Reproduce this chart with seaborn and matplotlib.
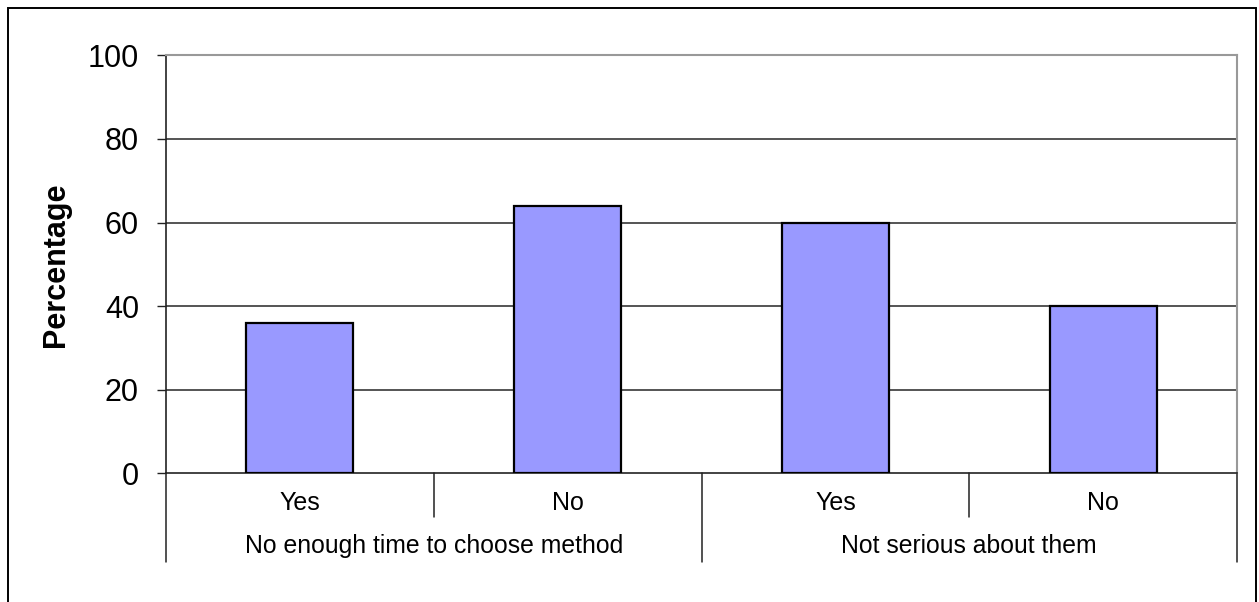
import pandas as pd
import matplotlib.pyplot as plt
import matplotlib.transforms as mtransforms
from matplotlib.patches import Rectangle
import seaborn as sns

# Chart data
groups = ["No enough time to choose method", "Not serious about them"]
answers = ["Yes", "No"]
values = [36, 64, 60, 40]
y_ticks = [0, 20, 40, 60, 80, 100]

sns.set_theme(style="white")
plt.rcParams['font.family'] = ['Liberation Sans', 'DejaVu Sans']
plt.rcParams['text.color'] = 'black'
plt.rcParams['axes.labelcolor'] = 'black'

df = pd.DataFrame({
    'group': [g for g in groups for _ in answers],
    'answer': answers * len(groups),
    'value': values,
})
df['bar'] = df['group'] + " | " + df['answer']

fig = plt.figure(figsize=(12.59, 6.02), dpi=100)
W, H = 1259, 602
ax = fig.add_axes([166 / W, 1 - 473.3 / H, 1071 / W, 418 / H])

sns.barplot(data=df, x='bar', y='value', color='#9999FF', saturation=1,
            width=0.4, edgecolor='black', linewidth=1.6, ax=ax, zorder=3)

ax.set_xlim(-0.5, len(values) - 0.5)
ax.set_ylim(0, 100)
ax.set_yticks(y_ticks)
ax.tick_params(axis='y', labelsize=22, length=6.5, width=1, color='#222222',
               pad=13, left=True, labelcolor='black')
ax.set_xticks([])
ax.set_xlabel('')
ax.set_ylabel('Percentage', fontsize=22, fontweight='bold', labelpad=12)

# gridlines
for yv in y_ticks[1:-1]:
    ax.axhline(yv, color='#262626', linewidth=1.1, zorder=1)

for side in ['top', 'right']:
    ax.spines[side].set_color('#999999')
    ax.spines[side].set_linewidth(1.5)
for side in ['left', 'bottom']:
    ax.spines[side].set_color('#222222')
    ax.spines[side].set_linewidth(1.2)

# category axis: separators and labels below the plot
trans = mtransforms.blended_transform_factory(ax.transData, ax.transAxes)
n = len(values)
for i in range(n + 1):
    xpos = i - 0.5
    depth = -0.212 if i % len(answers) == 0 else -0.105
    ax.plot([xpos, xpos], [0, depth], transform=trans, color='#222222',
            linewidth=1.1, clip_on=False)
for i, row in df.iterrows():
    ax.text(i, -0.07, row['answer'], transform=trans, ha='center', va='center',
            fontsize=18)
for j, g in enumerate(groups):
    center = j * len(answers) + (len(answers) - 1) / 2
    ax.text(center, -0.175, g, transform=trans, ha='center', va='center',
            fontsize=17.8)

# outer chart frame
fig.patches.append(Rectangle((8 / W, -0.1), (1256 - 8) / W, 1.1 - 8 / H,
                             transform=fig.transFigure, fill=False,
                             edgecolor='black', linewidth=1.4))

fig.savefig('out.png', dpi=100)
plt.close(fig)
